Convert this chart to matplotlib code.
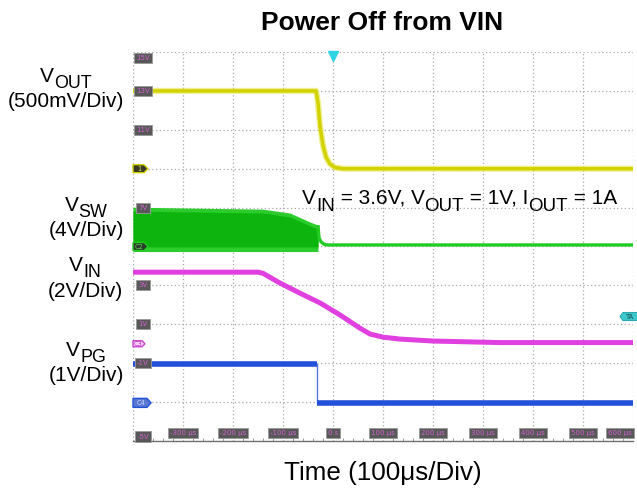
import matplotlib
matplotlib.use("Agg")
import matplotlib.pyplot as plt
from matplotlib.patches import Polygon

plt.rcParams['font.family'] = ['Liberation Sans', 'DejaVu Sans']

# ---- traces: time in microseconds, level in screen divisions (0 = bottom) ----
vout_t = [-400, -34, -30, -26, -20, -14, -6, 4, 20, 600]
vout_div = [9.0, 9.0, 8.7, 8.1, 7.6, 7.3, 7.12, 7.03, 7.0, 7.0]

vsw_env_t = [-400, -140, -86, -46, -30]
vsw_env_hi = [6.01, 5.96, 5.86, 5.63, 5.55]
vsw_env_lo = [4.87, 4.87, 4.87, 4.87, 4.87]
vsw_t = [-30, -28, -24, -18, -12, 600]
vsw_div = [5.55, 5.22, 5.12, 5.06, 5.04, 5.04]

vin_t = [-400, -150, -140, -106, -66, -26, 14, 54, 74, 100, 134, 200, 334, 600]
vin_div = [4.34, 4.34, 4.31, 4.06, 3.80, 3.55, 3.24, 2.90, 2.75, 2.67, 2.62, 2.57, 2.53, 2.53]

vpg_t = [-400, -32, -32, 600]
vpg_div = [1.98, 1.98, 0.98, 0.98]

# ---- scope annotations ----
time_labels = ['-300 µs', '-200 µs', '-100 µs', '0 s', '100 µs', '200 µs',
               '300 µs', '400 µs', '500 µs', '600 µs']
time_pos = [-300, -200, -100, 0, 100, 200, 300, 400, 500, 600]
scale_labels = ['15V', '13V', '11V', '7V', '3V', '1V', '-1V', '-5V']
scale_pos = [10, 9, 8, 6, 4, 3, 2, 0]
trigger_time = 0
trigger_level = 3.2

W, H = 637, 490
X0, X1, Y0, Y1 = 133, 633, 52, 441          # plot box in pixels
T_MIN, T_MAX, D_MIN, D_MAX = -400, 600, 0, 10
DX = (T_MAX - T_MIN) / (X1 - X0)            # µs per pixel
DY = (D_MAX - D_MIN) / (Y1 - Y0)            # div per pixel

fig = plt.figure(figsize=(W / 100, H / 100), dpi=100)
fig.patch.set_facecolor('white')
ax = fig.add_axes([X0 / W, (H - Y1) / H, (X1 - X0) / W, (Y1 - Y0) / H])
ax.set_xlim(T_MIN, T_MAX)
ax.set_ylim(D_MIN, D_MAX)

# graticule
ax.set_xticks(range(T_MIN, T_MAX + 1, 100))
ax.set_yticks(range(D_MIN, D_MAX + 1))
ax.set_xticks(range(T_MIN, T_MAX + 1, 20), minor=True)
ax.grid(True, which='major', color='#a8a8a8', linestyle=(0, (1, 2)), linewidth=0.9)
ax.tick_params(which='both', labelbottom=False, labelleft=False, left=False)
ax.tick_params(which='major', bottom=False)
ax.tick_params(which='minor', direction='in', length=2.5, color='#999999', width=0.7)
for side in ('left', 'top', 'right'):
    ax.spines[side].set_visible(False)
ax.spines['bottom'].set_color('#707070')
ax.spines['bottom'].set_linewidth(1.0)

# VSW switching envelope
ax.fill_between(vsw_env_t, vsw_env_lo, vsw_env_hi, color='#2ccc2c', lw=0, zorder=3)
ax.fill_between(vsw_env_t, [v + 0.12 for v in vsw_env_lo],
                [v - 0.1 for v in vsw_env_hi], color='#0db40d', lw=0, zorder=3)
ax.plot(vsw_t, vsw_div, color='#22cc22', lw=2.4, zorder=3, solid_capstyle='butt')

# VOUT
ax.plot(vout_t, vout_div, color='#e6e64a', lw=4.4, alpha=0.6, zorder=4)
ax.plot(vout_t, vout_div, color='#d2d200', lw=2.5, zorder=4)

# VIN
ax.plot(vin_t, vin_div, color='#e040e0', lw=3.6, zorder=4)

# VPG: thin edge, thick flat levels
ax.plot(vpg_t, vpg_div, color='#5577dd', lw=1.0, zorder=4)
for i in range(len(vpg_t) - 1):
    if vpg_div[i] == vpg_div[i + 1]:
        ax.plot(vpg_t[i:i + 2], vpg_div[i:i + 2], color='#2350d8', lw=4.0,
                zorder=4, solid_capstyle='butt')

box_txt = dict(fontsize=5.0, color='#d060d0', ha='center', va='center', zorder=6,
               family='DejaVu Sans')
box_style = dict(boxstyle='square,pad=0.3', fc='#585858', ec='#9a9a9a', lw=0.6)

# volt-scale readouts on the left edge
half = 4.5 * DY
for lab, lv in zip(scale_labels, scale_pos):
    yv = min(max(lv, D_MIN + half), D_MAX - half - 1.5 * DY)
    ax.text(T_MIN + 10 * DX, yv, lab, bbox=box_style, clip_on=False, **box_txt)

# time readouts along the bottom
for lab, tp in zip(time_labels, time_pos):
    if tp >= T_MAX:
        ax.text(T_MAX - 1 * DX, D_MIN + 8 * DY, lab, bbox=box_style,
                **{**box_txt, 'ha': 'right'})
    else:
        ax.text(tp, D_MIN + 8 * DY, lab, bbox=box_style, **box_txt)


def tag(level, w, h, p, fc, ec, text, tc):
    x0 = T_MIN
    pts = [(x0, level - h / 2 * DY), (x0 + (w - p) * DX, level - h / 2 * DY),
           (x0 + w * DX, level), (x0 + (w - p) * DX, level + h / 2 * DY),
           (x0, level + h / 2 * DY)]
    ax.add_patch(Polygon(pts, closed=True, fc=fc, ec=ec, lw=1.0, zorder=6,
                         clip_on=False))
    ax.text(x0 + (w - p) / 2 * DX + 1 * DX, level, text, fontsize=4.8, color=tc,
            ha='center', va='center', zorder=7, family='DejaVu Sans')


# channel ground markers
tag(vout_div[-1], 15, 8, 4, '#3a3a28', '#d2d200', '1', '#e0e060')
tag(5.0, 15, 8, 4, '#2c3a2c', '#22cc22', 'C2', '#55dd55')
tag(2.5, 12, 6, 3, '#f4d0f4', '#d040d0', 'C3', '#c030c0')
tag(vpg_div[-1], 18, 9, 4, '#5a78d0', '#2350d8', 'C4', '#c8d4ff')

# trigger position marker
ax.plot([trigger_time], [D_MAX - 4 * DY], marker='v', ms=6.5, color='#30d4e4',
        mec='#30d4e4', clip_on=False, zorder=7)

# trigger level marker on the right edge
ty = trigger_level
xr = T_MAX - 13 * DX
pts = [(xr, ty), (xr + 3 * DX, ty - 4 * DY), (xr + 20 * DX, ty - 4 * DY),
       (xr + 20 * DX, ty + 4 * DY), (xr + 3 * DX, ty + 4 * DY)]
ax.add_patch(Polygon(pts, closed=True, fc='#3cc8cc', ec='#2aa8b0', lw=0.8,
                     clip_on=False, zorder=7))
ax.text(xr + 10 * DX, ty, 'TA', fontsize=4.8, color='#184848', ha='center',
        va='center', clip_on=False, zorder=8, family='DejaVu Sans')

# ---- text ----
renderer = fig.canvas.get_renderer()


def text_width(s, size):
    t1 = fig.text(0, 0, '|' + s + '|', fontsize=size)
    t2 = fig.text(0, 0, '||', fontsize=size)
    w = t1.get_window_extent(renderer).width - t2.get_window_extent(renderer).width
    t1.remove()
    t2.remove()
    return w


def rich(x_px, base_px, parts, size, align='center', sub_scale=0.86, drop=0.3):
    sizes = [size * sub_scale if sub else size for _, sub in parts]
    widths = [text_width(s, fs) for (s, _), fs in zip(parts, sizes)]
    x = x_px - sum(widths) / 2 if align == 'center' else x_px
    for (s, sub), fs, w in zip(parts, sizes, widths):
        y = base_px + (drop * size * 100 / 72 if sub else 0)
        fig.text(x / W, 1 - y / H, s, fontsize=fs, ha='left', va='baseline')
        x += w


fig.text(382.5 / W, 1 - 30 / H, 'Power Off from VIN', fontsize=19,
         fontweight='bold', ha='center', va='baseline')
fig.text(382.5 / W, 1 - 480 / H, 'Time (100μs/Div)', fontsize=18.7,
         ha='center', va='baseline')

LS = 15
rich(66, 82, [('V', False), ('OUT', True)], LS)
rich(66, 107, [('(500mV/Div)', False)], LS)
rich(86, 211, [('V', False), ('SW', True)], LS)
rich(86, 236, [('(4V/Div)', False)], LS)
rich(85, 271, [('V', False), ('IN', True)], LS)
rich(85, 297, [('(2V/Div)', False)], LS)
rich(86, 356, [('V', False), ('PG', True)], LS)
rich(86, 381, [('(1V/Div)', False)], LS)

rich(302, 204, [('V', False), ('IN', True), (' = 3.6V, V', False), ('OUT', True),
                (' = 1V, I', False), ('OUT', True), (' = 1A', False)], LS,
     align='left', sub_scale=0.9, drop=0.33)

fig.savefig('out.png', dpi=100, facecolor='white')
